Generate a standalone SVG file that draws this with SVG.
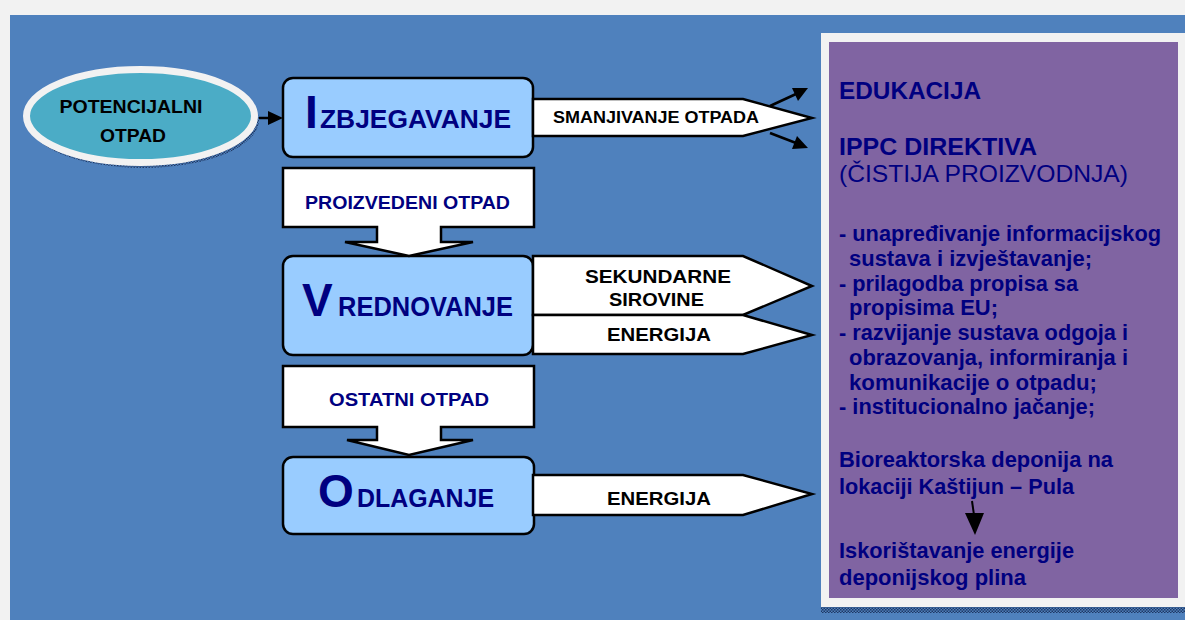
<svg xmlns="http://www.w3.org/2000/svg" width="1185" height="620" viewBox="0 0 1185 620">
<defs>
<style>
.box{fill:#99ccff;stroke:#000;stroke-width:2.5}
.flow{fill:#fff;stroke:#000;stroke-width:2.5;stroke-linejoin:miter}
.t{font-family:"Liberation Sans",Arial,sans-serif;font-weight:bold}
.navy{fill:#000080}
.blk{fill:#000}
.big{font-size:46px}
.cap{font-size:25px}
.lbl{font-size:18px}
.arr{font-size:16px}
.pan{font-size:22px}
.head{font-size:24px}
.ln{stroke:#000;stroke-width:2.5}
</style>
<pattern id="chk" width="3" height="3" patternUnits="userSpaceOnUse">
<rect width="3" height="3" fill="#4f81bd"/>
<rect width="1.5" height="1.5" fill="#1f3864"/>
<rect x="1.5" y="1.5" width="1.5" height="1.5" fill="#1f3864"/>
</pattern>
</defs>
<rect width="1185" height="620" fill="#f2f2f2"/>
<rect x="10" y="15" width="1175" height="605" fill="#4f81bd"/>

<g id="panel">
<rect x="821" y="607" width="364" height="6" fill="url(#chk)"/>
<rect x="821" y="33" width="364" height="574" fill="#f2f2f2"/>
<rect x="829" y="42" width="349" height="556" fill="#8064a2"/>
<text class="t navy head" x="839" y="99" textLength="142" lengthAdjust="spacingAndGlyphs">EDUKACIJA</text>
<text class="t navy head" x="839" y="155" textLength="198" lengthAdjust="spacingAndGlyphs">IPPC DIREKTIVA</text>
<text x="839" y="182" font-family="Liberation Sans,Arial,sans-serif" font-size="24" fill="#000080" textLength="289" lengthAdjust="spacingAndGlyphs">(ČISTIJA PROIZVODNJA)</text>
<text class="t navy pan" x="839" y="241" textLength="322" lengthAdjust="spacingAndGlyphs">- unapređivanje informacijskog</text>
<text class="t navy pan" x="849" y="266" textLength="243" lengthAdjust="spacingAndGlyphs">sustava i izvještavanje;</text>
<text class="t navy pan" x="839" y="291" textLength="239" lengthAdjust="spacingAndGlyphs">- prilagodba propisa sa</text>
<text class="t navy pan" x="849" y="315" textLength="149" lengthAdjust="spacingAndGlyphs">propisima EU;</text>
<text class="t navy pan" x="839" y="340" textLength="289" lengthAdjust="spacingAndGlyphs">- razvijanje sustava odgoja i</text>
<text class="t navy pan" x="849" y="365" textLength="279" lengthAdjust="spacingAndGlyphs">obrazovanja, informiranja i</text>
<text class="t navy pan" x="849" y="390" textLength="248" lengthAdjust="spacingAndGlyphs">komunikacije o otpadu;</text>
<text class="t navy pan" x="839" y="414" textLength="256" lengthAdjust="spacingAndGlyphs">- institucionalno jačanje;</text>
<text class="t navy pan" x="839" y="467" textLength="274" lengthAdjust="spacingAndGlyphs">Bioreaktorska deponija na</text>
<text class="t navy pan" x="839" y="494" textLength="235" lengthAdjust="spacingAndGlyphs">lokaciji Kaštijun – Pula</text>
<text class="t navy pan" x="839" y="558" textLength="235" lengthAdjust="spacingAndGlyphs">Iskorištavanje energije</text>
<text class="t navy pan" x="839" y="585" textLength="187" lengthAdjust="spacingAndGlyphs">deponijskog plina</text>
</g>

<g id="potencijalni-otpad">
<ellipse cx="143" cy="120" rx="116" ry="48" fill="url(#chk)"/>
<ellipse cx="140.5" cy="116" rx="114" ry="46.5" fill="#4bacc6" stroke="#f2f2f2" stroke-width="7"/>
<text class="t blk" font-size="19" x="131" y="113" text-anchor="middle" textLength="143" lengthAdjust="spacingAndGlyphs">POTENCIJALNI</text>
<text class="t blk" font-size="19" x="133" y="142" text-anchor="middle" textLength="66" lengthAdjust="spacingAndGlyphs">OTPAD</text>
</g>

<g id="izbjegavanje">
<rect class="box" x="283" y="78" width="250" height="79" rx="10"/>
<text class="t navy big" x="305" y="128">I</text>
<text class="t navy cap" x="320" y="128" textLength="191" lengthAdjust="spacingAndGlyphs">ZBJEGAVANJE</text>
</g>

<g id="vrednovanje">
<rect class="box" x="283" y="256" width="250" height="99" rx="10"/>
<text class="t navy big" x="302" y="316" font-size="47">V</text>
<text class="t navy" font-size="27" x="338" y="316" textLength="175" lengthAdjust="spacingAndGlyphs">REDNOVANJE</text>
</g>

<g id="odlaganje">
<rect class="box" x="283" y="457" width="251" height="77" rx="10"/>
<text class="t navy big" x="318" y="507">O</text>
<text class="t navy cap" x="357" y="507" textLength="137" lengthAdjust="spacingAndGlyphs">DLAGANJE</text>
</g>

<g id="connectors">
<line class="ln" x1="259" y1="118" x2="270" y2="118"/>
<polygon points="268,111 283,118 268,125" fill="#000"/>
<polygon class="flow" points="283,168 534,168 534,227 441,227 441,242 473,242 409,256 345,242 377,242 377,227 283,227"/>
<text class="t navy lbl" x="305" y="209" textLength="205" lengthAdjust="spacingAndGlyphs">PROIZVEDENI OTPAD</text>
<polygon class="flow" points="283,366 534,366 534,427 441,427 441,440 473,440 409,455 347,440 377,440 377,427 283,427"/>
<text class="t navy lbl" x="329" y="406" textLength="160" lengthAdjust="spacingAndGlyphs">OSTATNI OTPAD</text>
<polygon class="flow" points="533,99 743,99 812,118 743,136 533,136"/>
<text class="t blk arr" x="553" y="123" textLength="206" lengthAdjust="spacingAndGlyphs">SMANJIVANJE OTPADA</text>
<line class="ln" x1="770" y1="106" x2="796" y2="94"/>
<polygon points="808,88 798,101 792,88" fill="#000"/>
<line class="ln" x1="770" y1="133" x2="796" y2="143"/>
<polygon points="808,148 792,149 797,136" fill="#000"/>
<polygon class="flow" points="533,256 743,256 812,286 743,315 533,315"/>
<text class="t blk" font-size="19" x="585" y="283" textLength="146" lengthAdjust="spacingAndGlyphs">SEKUNDARNE</text>
<text class="t blk" font-size="19" x="609" y="306" textLength="95" lengthAdjust="spacingAndGlyphs">SIROVINE</text>
<polygon class="flow" points="533,315 743,315 812,335 743,354 533,354"/>
<text class="t blk" font-size="19" x="607" y="341" textLength="104" lengthAdjust="spacingAndGlyphs">ENERGIJA</text>
<polygon class="flow" points="533,475 743,475 812,494 743,515 533,515"/>
<text class="t blk" font-size="19" x="607" y="505" textLength="104" lengthAdjust="spacingAndGlyphs">ENERGIJA</text>
<line x1="972" y1="501" x2="974" y2="515" stroke="#000" stroke-width="2"/>
<polygon points="965,513 984,513 975,535" fill="#000"/>
</g>
</svg>
